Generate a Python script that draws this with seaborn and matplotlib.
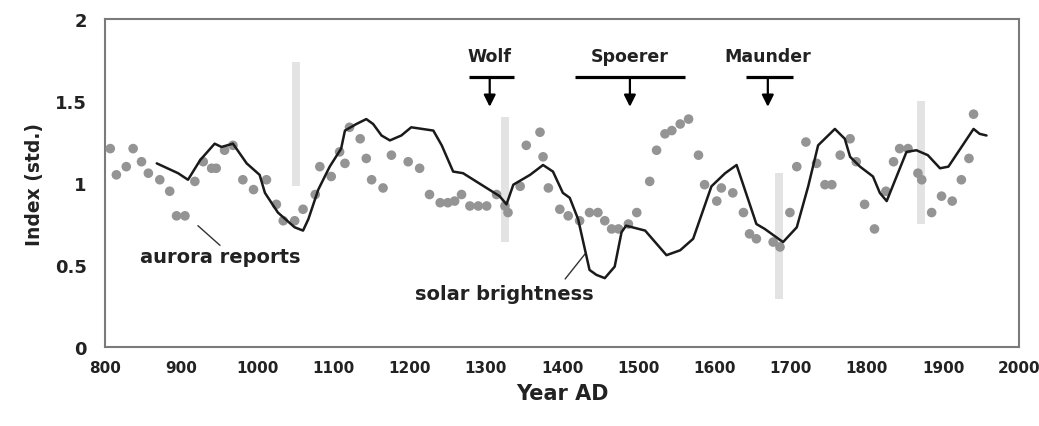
"""
Aurora reports vs solar brightness, 800-2000 AD
"""

import pandas as pd
import matplotlib
matplotlib.use('Agg')
import matplotlib.pyplot as plt
import seaborn as sns

# ==============================================================================
# DATA
# ==============================================================================

aurora_year = [807, 815, 828, 837, 848, 857, 872, 885, 894, 905, 918, 929, 940, 946, 957,
               968, 981, 995, 1012, 1025, 1034, 1049, 1060, 1076, 1082, 1097, 1108, 1115,
               1121, 1135, 1143, 1150, 1165, 1176, 1198, 1213, 1226, 1240, 1250, 1259, 1268,
               1279, 1290, 1301, 1314, 1325, 1329, 1345, 1353, 1371, 1375, 1382, 1397, 1408,
               1423, 1436, 1447, 1456, 1465, 1474, 1487, 1498, 1515, 1524, 1535, 1544, 1555,
               1566, 1579, 1587, 1603, 1609, 1624, 1638, 1646, 1655, 1677, 1686, 1699, 1708,
               1720, 1734, 1745, 1754, 1765, 1778, 1786, 1797, 1810, 1825, 1835, 1843, 1854,
               1867, 1872, 1885, 1898, 1912, 1924, 1934, 1940]
aurora_index = [1.21, 1.05, 1.10, 1.21, 1.13, 1.06, 1.02, 0.95, 0.80, 0.80, 1.01, 1.13, 1.09,
                1.09, 1.20, 1.23, 1.02, 0.96, 1.02, 0.87, 0.77, 0.77, 0.84, 0.93, 1.10, 1.04,
                1.19, 1.12, 1.34, 1.27, 1.15, 1.02, 0.97, 1.17, 1.13, 1.09, 0.93, 0.88, 0.88,
                0.89, 0.93, 0.86, 0.86, 0.86, 0.93, 0.86, 0.82, 0.98, 1.23, 1.31, 1.16, 0.97,
                0.84, 0.80, 0.77, 0.82, 0.82, 0.77, 0.72, 0.72, 0.75, 0.82, 1.01, 1.20, 1.30,
                1.32, 1.36, 1.39, 1.17, 0.99, 0.89, 0.97, 0.94, 0.82, 0.69, 0.66, 0.64, 0.61,
                0.82, 1.10, 1.25, 1.12, 0.99, 0.99, 1.17, 1.27, 1.13, 0.87, 0.72, 0.95, 1.13,
                1.21, 1.21, 1.06, 1.02, 0.82, 0.92, 0.89, 1.02, 1.15, 1.42]

solar_year = [868, 896, 909, 925, 944, 953, 968, 986, 1003, 1010, 1027, 1049, 1060, 1067,
              1080, 1095, 1110, 1115, 1130, 1143, 1152, 1163, 1174, 1189, 1202, 1231, 1242,
              1257, 1270, 1318, 1327, 1336, 1358, 1375, 1388, 1401, 1410, 1421, 1436, 1445,
              1456, 1469, 1478, 1484, 1509, 1537, 1555, 1572, 1596, 1614, 1629, 1655, 1666,
              1690, 1708, 1723, 1736, 1758, 1771, 1778, 1791, 1808, 1817, 1826, 1852, 1865,
              1880, 1896, 1907, 1940, 1948, 1957]
solar_index = [1.12, 1.06, 1.02, 1.14, 1.24, 1.22, 1.24, 1.12, 1.05, 0.94, 0.82, 0.73, 0.71,
               0.78, 0.96, 1.10, 1.21, 1.32, 1.36, 1.39, 1.36, 1.29, 1.26, 1.29, 1.34, 1.32,
               1.23, 1.07, 1.06, 0.92, 0.87, 0.99, 1.05, 1.11, 1.07, 0.94, 0.91, 0.78, 0.47,
               0.44, 0.42, 0.49, 0.70, 0.74, 0.71, 0.56, 0.59, 0.66, 0.98, 1.06, 1.11, 0.75,
               0.72, 0.64, 0.73, 0.98, 1.23, 1.33, 1.27, 1.16, 1.10, 1.04, 0.94, 0.89, 1.19,
               1.20, 1.17, 1.09, 1.10, 1.33, 1.30, 1.29]

# light grey vertical bands
band_year = [1051, 1325, 1685, 1871]
band_low = [0.98, 0.64, 0.29, 0.75]
band_high = [1.74, 1.40, 1.06, 1.50]

# grand solar minima
minima_name = ['Wolf', 'Spoerer', 'Maunder']
minima_start = [1278, 1417, 1642]
minima_end = [1337, 1561, 1703]
minima_mid = [1305, 1489, 1670]

x_ticks = list(range(800, 2001, 100))
y_ticks = [0, 0.5, 1, 1.5, 2]
y_tick_labels = ['0', '0.5', '1', '1.5', '2']


# ==============================================================================
# PLOT
# ==============================================================================

def plot_chart():
    sns.set_style('white')
    plt.rcParams['font.family'] = ['DejaVu Sans']

    aurora = pd.DataFrame({'year': aurora_year, 'index': aurora_index})
    solar = pd.DataFrame({'year': solar_year, 'index': solar_index})

    fig = plt.figure(figsize=(10.39, 4.27), dpi=100)
    ax = fig.add_axes([0.101, 0.185, 0.880, 0.768])

    # grey bands
    heights = [h - l for h, l in zip(band_high, band_low)]
    ax.bar(band_year, heights, bottom=band_low, width=10, color='#e3e3e3',
           linewidth=0, zorder=1)

    sns.scatterplot(data=aurora, x='year', y='index', ax=ax, color='#949494',
                    s=48, edgecolor='none', zorder=3, legend=False)
    sns.lineplot(data=solar, x='year', y='index', ax=ax, color='#1a1a1a',
                 linewidth=1.8, estimator=None, sort=False, zorder=4)

    # minima markers
    for name, x0, x1, xm in zip(minima_name, minima_start, minima_end, minima_mid):
        ax.hlines(1.645, x0, x1, color='black', linewidth=2.3, zorder=5)
        ax.annotate('', xy=(xm, 1.465), xytext=(xm, 1.645),
                    arrowprops=dict(arrowstyle='-|>,head_width=0.35,head_length=0.7',
                                    color='black', lw=1.6, shrinkA=0, shrinkB=0))
        ax.text(xm, 1.775, name, ha='center', va='center', fontsize=12.5,
                fontweight='bold', color='#222222')

    # series labels with leader lines
    ax.plot([922, 951], [0.74, 0.62], color='#333333', linewidth=1.0)
    ax.text(951, 0.55, 'aurora reports', ha='center', va='center', fontsize=14,
            fontweight='bold', color='#222222')
    ax.plot([1404, 1430], [0.415, 0.567], color='#333333', linewidth=1.0)
    ax.text(1324, 0.325, 'solar brightness', ha='center', va='center', fontsize=14,
            fontweight='bold', color='#222222')

    ax.set_xlim(800, 2000)
    ax.set_ylim(0, 2)
    ax.set_xticks(x_ticks)
    ax.set_yticks(y_ticks)
    ax.set_yticklabels(y_tick_labels)
    ax.set_xlabel('Year AD', fontsize=15, fontweight='bold', color='#222222', labelpad=6)
    ax.set_ylabel('Index (std.)', fontsize=13.5, fontweight='bold', color='#222222', labelpad=8)

    for side in ['left', 'right', 'top', 'bottom']:
        ax.spines[side].set_visible(True)
        ax.spines[side].set_color('#7a7a7a')
        ax.spines[side].set_linewidth(1.5)
    ax.tick_params(axis='y', direction='out', length=5, width=1.2, color='#7a7a7a',
                   labelsize=13, labelcolor='#222222', pad=8)
    ax.tick_params(axis='x', direction='inout', length=6, width=1.2, color='#7a7a7a',
                   labelsize=11, labelcolor='#222222', pad=6)
    for lab in ax.get_xticklabels() + ax.get_yticklabels():
        lab.set_fontweight('bold')

    fig.savefig('out.png', dpi=100)
    return fig


if __name__ == '__main__':
    plot_chart()
